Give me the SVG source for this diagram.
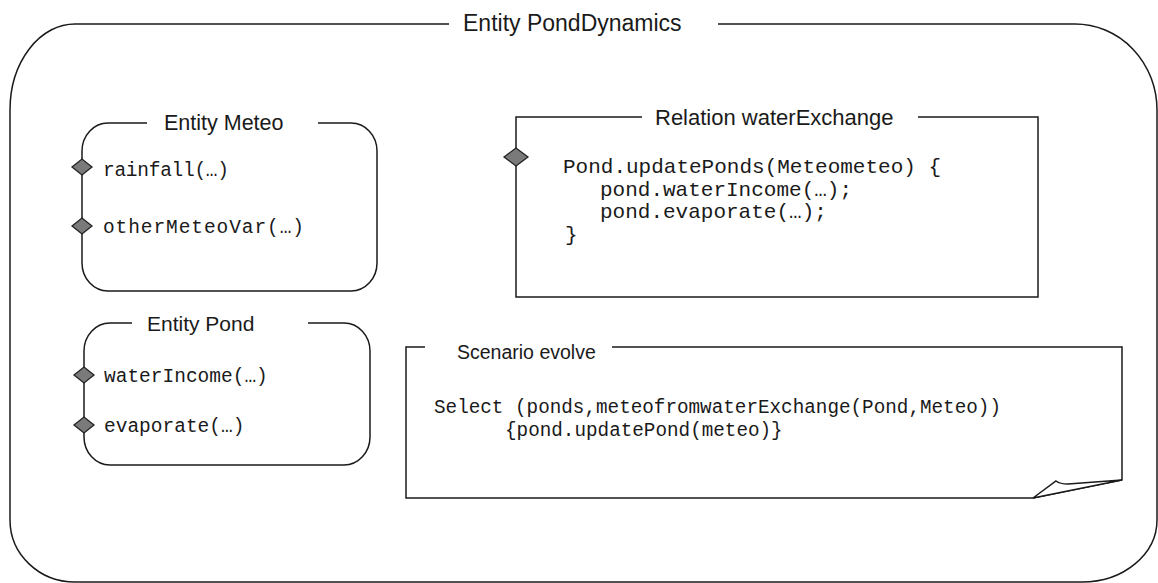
<svg xmlns="http://www.w3.org/2000/svg" width="1158" height="583" viewBox="0 0 1158 583">
  <style>
    .ln { fill: none; stroke: #1a1a1a; stroke-width: 1.5; }
    .dia { fill: #7a7a7a; stroke: #222; stroke-width: 1.3; }
    .ttl { font-family: "Liberation Sans", Arial, sans-serif; fill: #1a1a1a; }
    .code { font-family: "Liberation Mono", "Courier New", monospace; fill: #1a1a1a; }
  </style>
  <rect width="1158" height="583" fill="#ffffff"/>

  <g id="pondDynamics">
    <path class="ln" d="M449,24 H75 A65,86 0 0 0 10,110 V520 A65,62 0 0 0 75,582 H1082 A75,62 0 0 0 1157,520 V110 A82,86 0 0 0 1075,24 H718"/>
    <text class="ttl" x="463" y="31" font-size="23">Entity PondDynamics</text>
  </g>

  <g id="meteo">
    <path class="ln" d="M147,123 H108 A26,28 0 0 0 82,151 V263 A26,28 0 0 0 108,291 H351 A26,28 0 0 0 377,263 V151 A26,28 0 0 0 351,123 H318"/>
    <text class="ttl" x="164" y="130" font-size="21.5">Entity Meteo</text>
    <polygon class="dia" points="72,167 82,159 92,167 82,175"/>
    <polygon class="dia" points="72,226 82,218 92,226 82,234"/>
    <text class="code" x="103" y="176" font-size="19.5" textLength="126">rainfall(…)</text>
    <text class="code" x="103" y="233" font-size="19.5" textLength="201">otherMeteoVar(…)</text>
  </g>

  <g id="pond">
    <path class="ln" d="M132,323 H110 A26,28 0 0 0 84,351 V437 A26,28 0 0 0 110,465 H344 A26,28 0 0 0 370,437 V351 A26,28 0 0 0 344,323 H308"/>
    <text class="ttl" x="147" y="331" font-size="21">Entity Pond</text>
    <polygon class="dia" points="74,375 84,367 94,375 84,383"/>
    <polygon class="dia" points="74,425 84,417 94,425 84,433"/>
    <text class="code" x="104" y="382" font-size="19.5">waterIncome(…)</text>
    <text class="code" x="104" y="432" font-size="19.5">evaporate(…)</text>
  </g>

  <g id="waterExchange">
    <path class="ln" d="M642,117 H516 V297 H1038 V117 H918"/>
    <text class="ttl" x="655" y="125" font-size="22">Relation waterExchange</text>
    <polygon class="dia" points="504,157 516,148 528,157 516,166"/>
    <text class="code" x="563" y="173" font-size="21">Pond.updatePonds(Meteometeo) {</text>
    <text class="code" x="600" y="196" font-size="21">pond.waterIncome(…);</text>
    <text class="code" x="600" y="218" font-size="21">pond.evaporate(…);</text>
    <text class="code" x="565" y="241" font-size="21">}</text>
  </g>

  <g id="evolve">
    <path class="ln" d="M425,347 H406 V498 H1033 L1122,480 V347 H612"/>
    <path class="ln" d="M1033,498 L1056,481 Q1060,484 1068,484 L1122,480 Z" style="fill:#ffffff"/>
    <text class="ttl" x="457" y="359" font-size="19.5">Scenario evolve</text>
    <text class="code" x="434" y="413" font-size="19.3">Select (ponds,meteofromwaterExchange(Pond,Meteo))</text>
    <text class="code" x="505" y="436" font-size="19.3">{pond.updatePond(meteo)}</text>
  </g>

  <g id="connectors"></g>
</svg>
